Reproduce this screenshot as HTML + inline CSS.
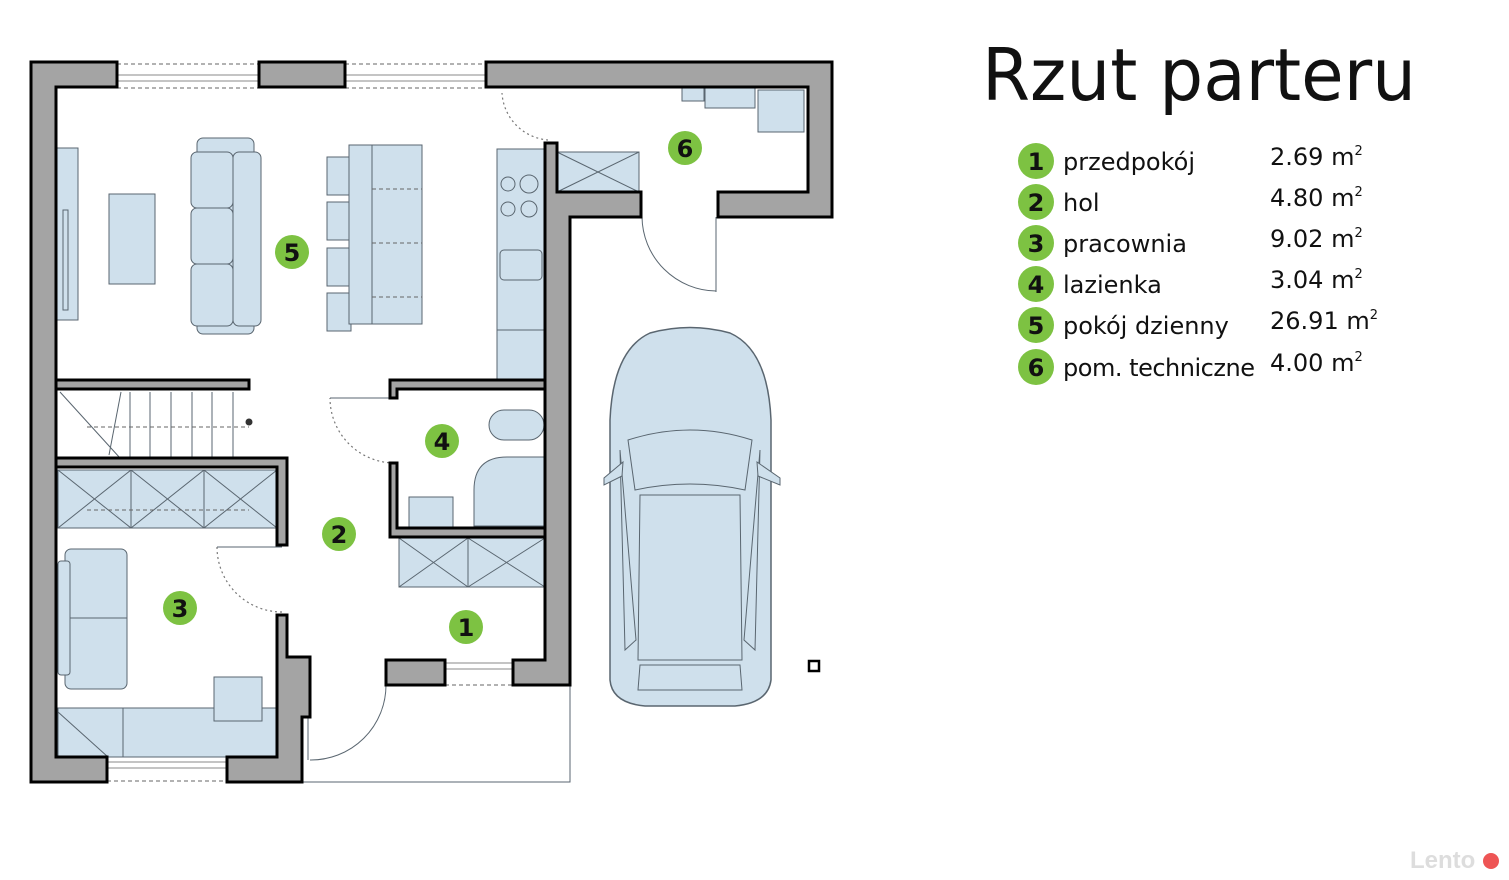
<!DOCTYPE html>
<html><head><meta charset="utf-8"><style>
html,body{margin:0;padding:0;background:#fff;}
svg{display:block}
.w{fill:#a4a4a4;stroke:#000;stroke-width:3;stroke-linejoin:miter}
.f{fill:#cfe0ec;stroke:#5a6670;stroke-width:1}
.fl{fill:none;stroke:#5a6670;stroke-width:1}
.d{fill:none;stroke:#666;stroke-width:1;stroke-dasharray:4 3}
.dr{fill:none;stroke:#777;stroke-width:1.2;stroke-dasharray:2 3}
.win{fill:#fff;stroke:#888;stroke-width:1}
.num{font-family:"DejaVu Sans","Liberation Sans",sans-serif;font-size:24px;fill:#111;text-anchor:middle;font-weight:bold}
.lg{font-family:"DejaVu Sans","Liberation Sans",sans-serif;font-size:24px;fill:#111}
</style></head><body>
<svg width="1509" height="880" viewBox="0 0 1509 880" xmlns="http://www.w3.org/2000/svg">
<rect width="1509" height="880" fill="#fff"/>

<rect class="win" x="117" y="75" width="142" height="6"/>
<line class="d" x1="117" y1="64" x2="259" y2="64"/><line class="d" x1="117" y1="88" x2="259" y2="88"/>
<rect class="win" x="345" y="75" width="141" height="6"/>
<line class="d" x1="345" y1="64" x2="486" y2="64"/><line class="d" x1="345" y1="88" x2="486" y2="88"/>
<rect class="win" x="107" y="762" width="120" height="6"/>
<line class="d" x1="107" y1="781" x2="227" y2="781"/>
<rect class="win" x="445" y="663" width="68" height="6"/>
<line class="d" x1="445" y1="685" x2="513" y2="685"/>
<polyline class="fl" points="302,782 570,782 570,685" stroke="#999"/>

<rect class="f" x="56" y="148" width="22" height="172"/>
<rect class="fl" x="63" y="210" width="5" height="100"/>
<rect class="f" x="109" y="194" width="46" height="90"/>
<rect class="f" x="197" y="138" width="57" height="196" rx="6"/>
<rect class="f" x="191" y="152" width="42" height="56" rx="6"/>
<rect class="f" x="191" y="208" width="42" height="56" rx="6"/>
<rect class="f" x="191" y="264" width="42" height="62" rx="6"/>
<rect class="f" x="233" y="152" width="28" height="174" rx="6"/>
<rect class="f" x="327" y="157" width="24" height="38"/><rect class="f" x="327" y="202" width="24" height="38"/>
<rect class="f" x="327" y="248" width="24" height="38"/><rect class="f" x="327" y="293" width="24" height="38"/>
<rect class="f" x="349" y="145" width="73" height="179"/>
<line class="fl" x1="372" y1="145" x2="372" y2="324"/>
<line class="d" x1="372" y1="189" x2="422" y2="189"/><line class="d" x1="372" y1="243" x2="422" y2="243"/><line class="d" x1="372" y1="297" x2="422" y2="297"/>
<rect class="f" x="497" y="149" width="48" height="231"/>
<circle class="fl" cx="508" cy="184" r="7"/><circle class="fl" cx="529" cy="184" r="9"/>
<circle class="fl" cx="508" cy="209" r="7"/><circle class="fl" cx="529" cy="209" r="8"/>
<rect class="fl" x="500" y="250" width="42" height="30" rx="4"/>
<line class="fl" x1="497" y1="330" x2="545" y2="330"/>
<path class="dr" d="M548 140 A50 50 0 0 1 502 93"/>
<path class="fl" d="M642 217 A75 75 0 0 0 716 291" stroke="#666"/>
<line class="fl" x1="716" y1="217" x2="716" y2="292" stroke="#888"/>
<path class="fl" d="M386 685 A75 75 0 0 1 310 760" stroke="#666"/>
<line class="fl" x1="308" y1="685" x2="308" y2="760" stroke="#888"/>
<path class="dr" d="M394 463 A65 65 0 0 1 330 398"/>
<line class="fl" x1="330" y1="398" x2="394" y2="398"/>
<path class="dr" d="M282 612 A65 65 0 0 1 217 547"/>
<line class="fl" x1="217" y1="547" x2="282" y2="547"/>

<rect class="f" x="557" y="152" width="82" height="40"/>
<line class="fl" x1="557" y1="152" x2="639" y2="192"/><line class="fl" x1="557" y1="192" x2="639" y2="152"/>
<rect class="f" x="705" y="87" width="50" height="21"/>
<rect class="f" x="758" y="90" width="46" height="42"/>
<rect class="f" x="682" y="87" width="22" height="14"/>

<g class="fl" stroke="#777">
<line x1="130" y1="392" x2="130" y2="458"/><line x1="150" y1="392" x2="150" y2="458"/><line x1="171" y1="392" x2="171" y2="458"/>
<line x1="192" y1="392" x2="192" y2="458"/><line x1="212" y1="392" x2="212" y2="458"/><line x1="233" y1="392" x2="233" y2="458"/>
<line x1="121" y1="392" x2="109" y2="455"/><line x1="60" y1="392" x2="120" y2="458"/>
</g>
<line class="d" x1="87" y1="427" x2="249" y2="427"/>
<circle cx="249" cy="422" r="3.5" fill="#333"/>
<rect class="f" x="58" y="470" width="219" height="58"/>
<g class="fl"><line x1="131" y1="470" x2="131" y2="528"/><line x1="204" y1="470" x2="204" y2="528"/>
<line x1="58" y1="470" x2="131" y2="528"/><line x1="58" y1="528" x2="131" y2="470"/>
<line x1="131" y1="470" x2="204" y2="528"/><line x1="131" y1="528" x2="204" y2="470"/>
<line x1="204" y1="470" x2="277" y2="528"/><line x1="204" y1="528" x2="277" y2="470"/></g>
<line class="d" x1="87" y1="510" x2="249" y2="510"/>
<rect class="f" x="65" y="549" width="62" height="140" rx="6"/>
<rect class="f" x="58" y="561" width="12" height="114" rx="3"/>
<line class="fl" x1="70" y1="618" x2="127" y2="618"/>
<rect class="f" x="58" y="708" width="219" height="49"/>
<line class="fl" x1="123" y1="708" x2="123" y2="757"/><line class="fl" x1="58" y1="712" x2="108" y2="757"/>
<rect class="f" x="214" y="677" width="48" height="44"/>
<rect class="f" x="489" y="410" width="55" height="30" rx="15"/>
<path class="f" d="M474 526 L474 490 Q474 457 507 457 L544 457 L544 526 Z"/>
<rect class="f" x="409" y="497" width="44" height="30"/>
<rect class="f" x="399" y="538" width="146" height="49"/>
<g class="fl"><line x1="468" y1="538" x2="468" y2="587"/><line x1="399" y1="538" x2="468" y2="587"/><line x1="399" y1="587" x2="468" y2="538"/>
<line x1="468" y1="538" x2="545" y2="587"/><line x1="468" y1="587" x2="545" y2="538"/></g>

<path class="w" d="M31 62 L117 62 L117 87 L56 87 L56 757 L107 757 L107 782 L31 782 Z"/>
<rect class="w" x="259" y="62" width="86" height="25"/>
<path class="w" d="M486 62 L832 62 L832 217 L718 217 L718 192 L808 192 L808 87 L486 87 Z"/>
<path class="w" d="M545 143 L557 143 L557 192 L641 192 L641 217 L570 217 L570 685 L513 685 L513 660 L545 660 Z"/>
<rect class="w" x="386" y="660" width="59" height="25"/>
<rect class="w" x="56" y="380" width="193" height="9"/>
<path class="w" d="M390 380 L545 380 L545 389 L397 389 L397 398 L390 398 Z"/>
<path class="w" d="M390 463 L397 463 L397 528 L545 528 L545 537 L390 537 Z"/>
<path class="w" d="M56 458 L287 458 L287 545 L277 545 L277 467 L56 467 Z"/>
<path class="w" d="M277 615 L287 615 L287 657 L310 657 L310 717 L302 717 L302 782 L227 782 L227 757 L277 757 Z"/>

<path d="M650 333 Q690 322 730 333 Q768 350 771 420 L771 680 Q768 703 735 706 L645 706 Q612 703 610 680 L610 420 Q613 350 650 333 Z" fill="#cfe0ec" stroke="#5a6670" stroke-width="1.5"/>
<path class="fl" d="M628 440 Q690 420 752 440 L745 490 Q690 478 635 490 Z"/>
<path class="fl" d="M640 495 L740 495 L742 660 L638 660 Z"/>
<path class="fl" d="M620 450 L636 640 L625 650 Z"/><path class="fl" d="M760 450 L744 640 L755 650 Z"/>
<path class="f" d="M623 462 L604 478 L604 485 L622 476 Z"/><path class="f" d="M757 462 L780 478 L780 485 L758 476 Z"/>
<path class="fl" d="M640 665 L740 665 L742 690 L638 690 Z"/>
<rect x="809" y="661" width="10" height="10" fill="#fff" stroke="#000" stroke-width="2.5"/>

<g>
<circle cx="292" cy="252" r="17" fill="#7dc242"/><text class="num" x="292" y="261">5</text>
<circle cx="685" cy="148" r="17" fill="#7dc242"/><text class="num" x="685" y="157">6</text>
<circle cx="442" cy="441" r="17" fill="#7dc242"/><text class="num" x="442" y="450">4</text>
<circle cx="339" cy="534" r="17" fill="#7dc242"/><text class="num" x="339" y="543">2</text>
<circle cx="180" cy="608" r="17" fill="#7dc242"/><text class="num" x="180" y="617">3</text>
<circle cx="466" cy="627" r="17" fill="#7dc242"/><text class="num" x="466" y="636">1</text>
</g>

<text x="982" y="100" font-family="'DejaVu Sans','Liberation Sans',sans-serif" font-size="72" fill="#111" textLength="434" lengthAdjust="spacingAndGlyphs">Rzut parteru</text>
<g>
<circle cx="1036" cy="161" r="18" fill="#7dc242"/><text class="num" x="1036" y="170">1</text><text class="lg" x="1063" y="170">przedpokój</text><text class="lg" x="1270" y="165">2.69 m<tspan font-size="13" dy="-10">2</tspan></text>
<circle cx="1036" cy="202" r="18" fill="#7dc242"/><text class="num" x="1036" y="211">2</text><text class="lg" x="1063" y="211">hol</text><text class="lg" x="1270" y="206">4.80 m<tspan font-size="13" dy="-10">2</tspan></text>
<circle cx="1036" cy="243" r="18" fill="#7dc242"/><text class="num" x="1036" y="252">3</text><text class="lg" x="1063" y="252">pracownia</text><text class="lg" x="1270" y="247">9.02 m<tspan font-size="13" dy="-10">2</tspan></text>
<circle cx="1036" cy="284" r="18" fill="#7dc242"/><text class="num" x="1036" y="293">4</text><text class="lg" x="1063" y="293">lazienka</text><text class="lg" x="1270" y="288">3.04 m<tspan font-size="13" dy="-10">2</tspan></text>
<circle cx="1036" cy="325" r="18" fill="#7dc242"/><text class="num" x="1036" y="334">5</text><text class="lg" x="1063" y="334">pokój dzienny</text><text class="lg" x="1270" y="329">26.91 m<tspan font-size="13" dy="-10">2</tspan></text>
<circle cx="1036" cy="367" r="18" fill="#7dc242"/><text class="num" x="1036" y="376">6</text><text class="lg" x="1063" y="376" textLength="192">pom. techniczne</text><text class="lg" x="1270" y="371">4.00 m<tspan font-size="13" dy="-10">2</tspan></text>
</g>
<text x="1410" y="868" font-family="'Liberation Sans',sans-serif" font-size="24" font-weight="bold" fill="#ddd">Lento</text>
<circle cx="1491" cy="861" r="8" fill="#e55"/>
</svg>
</body></html>
